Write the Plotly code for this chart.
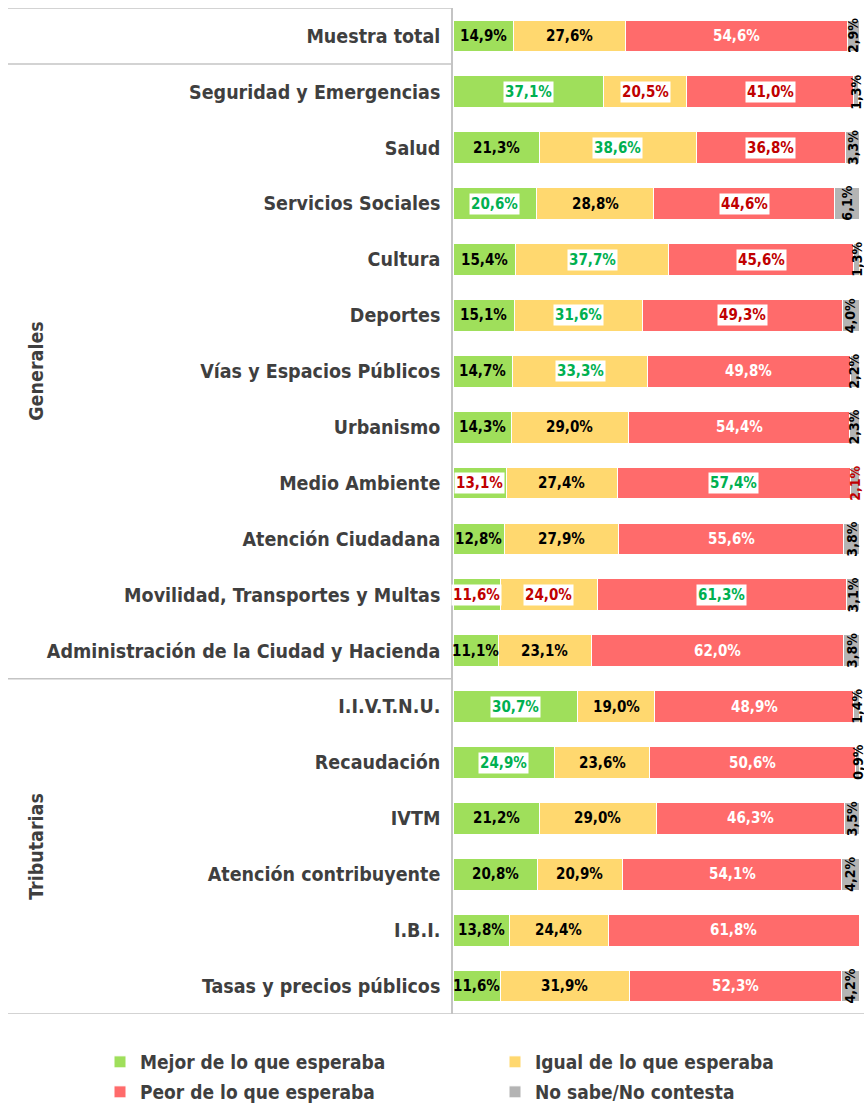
import plotly.graph_objects as go

categorias = [
    "Muestra total", "Seguridad y Emergencias", "Salud", "Servicios Sociales", "Cultura",
    "Deportes", "Vías y Espacios Públicos", "Urbanismo", "Medio Ambiente",
    "Atención Ciudadana", "Movilidad, Transportes y Multas",
    "Administración de la Ciudad y Hacienda", "I.I.V.T.N.U.", "Recaudación", "IVTM",
    "Atención contribuyente", "I.B.I.", "Tasas y precios públicos",
]
mejor = [14.9, 37.1, 21.3, 20.6, 15.4, 15.1, 14.7, 14.3, 13.1, 12.8, 11.6, 11.1, 30.7, 24.9, 21.2, 20.8, 13.8, 11.6]
igual = [27.6, 20.5, 38.6, 28.8, 37.7, 31.6, 33.3, 29.0, 27.4, 27.9, 24.0, 23.1, 19.0, 23.6, 29.0, 20.9, 24.4, 31.9]
peor = [54.6, 41.0, 36.8, 44.6, 45.6, 49.3, 49.8, 54.4, 57.4, 55.6, 61.3, 62.0, 48.9, 50.6, 46.3, 54.1, 61.8, 52.3]
nsnc = [2.9, 1.3, 3.3, 6.1, 1.3, 4.0, 2.2, 2.3, 2.1, 3.8, 3.1, 3.8, 1.4, 0.9, 3.5, 4.2, 0.0, 4.2]

series_names = ["Mejor de lo que esperaba", "Igual de lo que esperaba",
                "Peor de lo que esperaba", "No sabe/No contesta"]

# label styles: k = black, w = white, g = green on white box, r = red on white box, R = red text
est_mejor = ["k", "g", "k", "g", "k", "k", "k", "k", "r", "k", "r", "k", "g", "g", "k", "k", "k", "k"]
est_igual = ["k", "r", "g", "k", "g", "g", "g", "k", "k", "k", "r", "k", "k", "k", "k", "k", "k", "k"]
est_peor = ["w", "r", "r", "r", "r", "r", "w", "w", "g", "w", "g", "w", "w", "w", "w", "w", "w", "w"]
est_nsnc = ["k", "k", "k", "k", "k", "k", "k", "k", "R", "k", "k", "k", "k", "k", "k", "k", "k", "k"]

colores = ["#9FDF5B", "#FFD86F", "#FF6B6B", "#B4B4B4"]
FONT = "DejaVu Sans Condensed"
TXT = "#3F3F3F"
W, H = 864, 1103

# legend placement (container coords, pixels)
legend_pos = [(100, 1062), (495, 1062), (100, 1092), (495, 1092)]

fig = go.Figure()
legend_ids = ["legend", "legend2", "legend3", "legend4"]
for i, (name, vals) in enumerate(zip(series_names, [mejor, igual, peor, nsnc])):
    fig.add_trace(go.Bar(
        y=categorias, x=vals, orientation="h", name=name,
        marker=dict(color=colores[i], line=dict(color="white", width=1)),
        width=0.57, legend=legend_ids[i],
        hoverinfo="skip",
    ))

def fmt(v):
    return f"{v:.1f}%".replace(".", ",")

style_map = {
    "k": dict(color="#000000", bg=None),
    "w": dict(color="#FFFFFF", bg=None),
    "g": dict(color="#00B050", bg="white"),
    "r": dict(color="#C00000", bg="white"),
    "R": dict(color="#C00000", bg=None),
}

annotations = []
for j, cat in enumerate(categorias):
    starts = [0, mejor[j], mejor[j] + igual[j], mejor[j] + igual[j] + peor[j]]
    vals = [mejor[j], igual[j], peor[j], nsnc[j]]
    ests = [est_mejor[j], est_igual[j], est_peor[j], est_nsnc[j]]
    for k in range(4):
        v = vals[k]
        if v <= 0:
            continue
        st = style_map[ests[k]]
        a = dict(x=starts[k] + v / 2, y=cat, xref="x", yref="y", text=fmt(v),
                 showarrow=False, font=dict(family=FONT, size=15, color=st["color"], weight="bold"))
        if st["bg"]:
            a["bgcolor"] = st["bg"]
            a["borderpad"] = 1
        if k == 3:
            a["textangle"] = -90
            a["font"]["size"] = 14
        annotations.append(a)

PLOT_L, PLOT_W = 453, 406
PLOT_T, PLOT_B = 8, 1014

grp_x = (23 - PLOT_L) / PLOT_W
annotations.append(dict(x=grp_x, y=6, xref="paper", yref="y", text="Generales", textangle=-90,
                        showarrow=False, font=dict(family=FONT, size=19.5, color=TXT, weight="bold")))
annotations.append(dict(x=grp_x, y=14.5, xref="paper", yref="y", text="Tributarias", textangle=-90,
                        showarrow=False, font=dict(family=FONT, size=19.5, color=TXT, weight="bold")))

x_left = (8 - PLOT_L) / PLOT_W
x_right = (W - PLOT_L) / PLOT_W
shapes = []
for yv, xr in [(-0.5, 0), (0.5, 0), (11.5, 0), (17.5, x_right)]:
    shapes.append(dict(type="line", xref="paper", yref="y", x0=x_left, x1=xr, y0=yv, y1=yv,
                       line=dict(color="#C4C4C4", width=1.5)))

legend_font = dict(family=FONT, size=19, color=TXT, weight="bold")
legends = {}
for lid, (px, py) in zip(legend_ids, legend_pos):
    legends[lid] = dict(orientation="h", xref="container", yref="container",
                        x=px / W, xanchor="left", y=1 - py / H, yanchor="middle",
                        font=legend_font, itemwidth=30, bgcolor="rgba(0,0,0,0)",
                        borderwidth=0)

fig.update_layout(
    width=W, height=H,
    margin=dict(l=PLOT_L, r=W - PLOT_L - PLOT_W, t=PLOT_T, b=H - PLOT_B, autoexpand=False),
    plot_bgcolor="white", paper_bgcolor="white",
    barmode="stack",
    showlegend=True,
    xaxis=dict(range=[0, 100], showticklabels=False, showgrid=False, zeroline=False,
               showline=False, fixedrange=True),
    yaxis=dict(categoryorder="array", categoryarray=categorias, autorange=False,
               range=[17.5, -0.5], showgrid=False, zeroline=False,
               showline=True, linecolor="#C4C4C4", linewidth=1.5,
               ticks="outside", ticklen=7, tickcolor="rgba(0,0,0,0)",
               tickfont=dict(family=FONT, size=19.5, color=TXT, weight="bold")),
    annotations=annotations,
    shapes=shapes,
    **legends,
)

fig.write_html("out.html", config={"displayModeBar": False},
               post_script="document.body.style.margin='0';")
